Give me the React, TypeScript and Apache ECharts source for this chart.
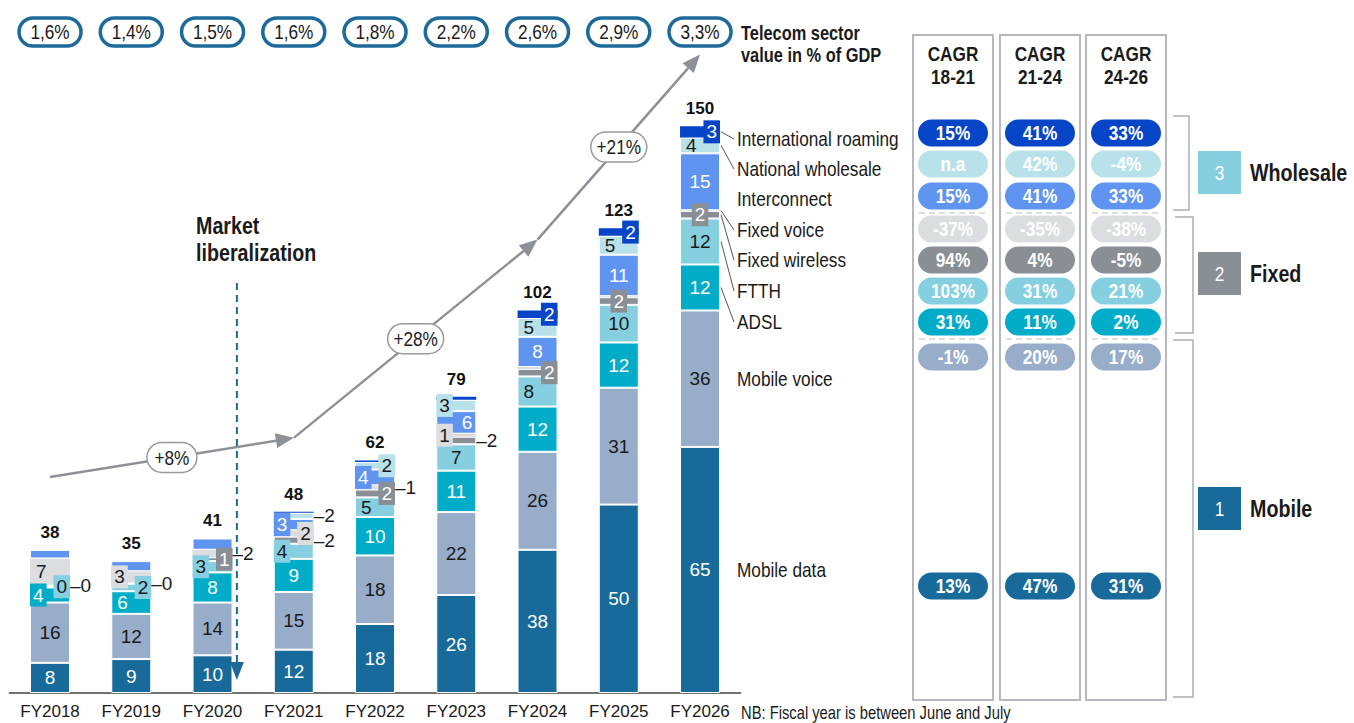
import React, { useEffect, useRef } from "react";
import * as echarts from "echarts";

const FONT = "'Liberation Sans', Arial, sans-serif";
const NARROW = 0.82;

// ---------------- DATA ----------------
const years = ["FY2018", "FY2019", "FY2020", "FY2021", "FY2022", "FY2023", "FY2024", "FY2025", "FY2026"];
const totals = [38, 35, 41, 48, 62, 79, 102, 123, 150];
const gdpShare = ["1,6%", "1,4%", "1,5%", "1,6%", "1,8%", "2,2%", "2,6%", "2,9%", "3,3%"];
const growthLabels = ["+8%", "+28%", "+21%"];

const seriesNames = [
  "Mobile data",
  "Mobile voice",
  "ADSL",
  "FTTH",
  "Fixed wireless",
  "Fixed voice",
  "Interconnect",
  "National wholesale",
  "International roaming",
];
const mobileData = [8, 9, 10, 11.5, 18.3, 26, 38, 50, 65.3];
const mobileVoice = [16, 12, 14, 15.3, 18.2, 22, 26, 31, 36.2];
const adsl = [4, 6, 8, 8.8, 10.2, 11, 12, 12, 12.2];
const ftth = [0.4, 2, 3, 4.0, 5.2, 7, 8, 10, 12.2];
const fixedWireless = [0.3, 0.3, 1, 1.9, 2.1, 2, 2, 2, 2];
const fixedVoice = [7, 3, 2, 1.7, 1.1, 0.8, 0.5, 0.3, 0.2];
const interconnect = [2.3, 2.7, 3, 3, 4.2, 6, 8, 11, 15.1];
const nationalWholesale = [0, 0, 0, 1.6, 2.0, 3, 5, 5, 4.2];
const internationalRoaming = [0, 0, 0, 0.3, 0.4, 0.8, 2, 2, 3];
const seriesValues = [
  mobileData,
  mobileVoice,
  adsl,
  ftth,
  fixedWireless,
  fixedVoice,
  interconnect,
  nationalWholesale,
  internationalRoaming,
];

const gdpTitle = "Telecom sector\nvalue in % of GDP";
const eventLabel = "Market\nliberalization";
const cagrHeaders = ["CAGR\n18-21", "CAGR\n21-24", "CAGR\n24-26"];
// series order: Mobile data .. International roaming
const cagr1821 = ["13%", "-1%", "31%", "103%", "94%", "-37%", "15%", "n.a", "15%"];
const cagr2124 = ["47%", "20%", "11%", "31%", "4%", "-35%", "41%", "42%", "41%"];
const cagr2426 = ["31%", "17%", "2%", "21%", "-5%", "-38%", "33%", "-4%", "33%"];
const cagrColumns = [cagr1821, cagr2124, cagr2426];
const groupNumbers = ["3", "2", "1"];
const groupNames = ["Wholesale", "Fixed", "Mobile"];
const footnote = "NB: Fiscal year is between June and July";

// ---------------- STYLES ----------------
const COLORS = ["#176a99", "#97adc9", "#00acc8", "#86cfe0", "#8a8f96", "#dcdde0", "#5f95f0", "#b9e1ea", "#0645c8"];
const TEXT_COLORS = ["#fff", "#1a1a1a", "#fff", "#1a1a1a", "#fff", "#1a1a1a", "#fff", "#1a1a1a", "#fff"];
const BORDERS = [1, 1, 1, 1, 1, 0, 1, 1, 0];
const PLACE = [
  ["in", "in", "in", "in", "in", "in", "in", "in", "in"],
  ["in", "in", "in", "in", "in", "in", "in", "in", "in"],
  ["L", "inL", "in", "in", "in", "in", "in", "in", "in"],
  ["R", "R", "L", "L", "inL", "in", "inL", "in", "in"],
  ["call", "call", "R", "call", "R", "call", "R", "C", "C"],
  ["inL", "L", "call", "R", "call", "L", "", "", ""],
  ["", "", "", "L", "L", "inR", "in", "in", "in"],
  ["", "", "", "call", "R", "L", "inL", "inL", "inL"],
  ["", "", "", "", "", "", "R", "R", "R"],
];
const LEGEND_Y: (number | null)[] = [null, null, 322, 291, 260, 230, 199, 169, 139];
const CAGR_Y = [586, 357, 322, 291, 260, 229, 196, 164, 133];
const CONNECT = [false, false, true, true, true, true, false, true, true];
const ARROW_POINTS = [
  [0, 57.3],
  [3, 67.7],
  [6, 120.3],
  [8, 169.4],
];
const GROUP_COLORS = ["#86cfe0", "#8a8f96", "#176a99"];
const GROUP_TOP = [151, 252, 487];
const BRACKETS = [
  [[1173, 116], [1189, 116], [1189, 210], [1173, 210]],
  [[1175, 217], [1193, 217], [1193, 333], [1175, 333]],
  [[1173, 340], [1193, 340], [1193, 697], [1173, 697]],
];
const COL_X = [913, 1000, 1086];
const BAR_W = 40;

function labelFor(code: string, si: number, v: number) {
  const txt = String(Math.round(v));
  const base: any = {
    show: true,
    fontFamily: FONT,
    fontSize: 19,
    color: TEXT_COLORS[si],
    formatter: txt,
  };
  const box = { backgroundColor: COLORS[si], padding: [2, 3, 1, 3], lineHeight: 20 };
  switch (code) {
    case "in":
      return { ...base, position: "inside" };
    case "inL":
      return { ...base, position: "insideLeft", distance: 6 };
    case "inR":
      return { ...base, position: "insideRight", distance: 4 };
    case "L":
      return { ...base, ...box, position: "insideLeft", distance: 0 };
    case "R":
      return { ...base, ...box, position: "insideRight", distance: 0 };
    case "C":
      return { ...base, ...box, position: "inside" };
    case "call":
      return { ...base, position: "right", distance: 0, color: "#1a1a1a", formatter: "–" + txt };
    default:
      return { show: false };
  }
}

export default function App() {
  const ref = useRef<HTMLDivElement>(null);

  useEffect(() => {
    document.body.style.margin = "0";
    if (!ref.current) return;
    const chart = echarts.init(ref.current, undefined, { renderer: "svg" });

    const series: any[] = seriesValues.map((vals, si) => ({
      name: seriesNames[si],
      type: "bar",
      stack: "total",
      stackStrategy: "all",
      barWidth: BAR_W,
      silent: true,
      emphasis: { disabled: true },
      itemStyle: { color: COLORS[si], borderColor: "#fff", borderWidth: BORDERS[si] },
      data: vals.map((v, i) => ({ value: v, label: labelFor(PLACE[si][i], si, v) })),
    }));
    series.push({
      name: "Total",
      type: "bar",
      stack: "total",
      stackStrategy: "all",
      barWidth: BAR_W,
      silent: true,
      itemStyle: { color: "rgba(0,0,0,0)" },
      label: {
        show: true,
        position: "top",
        distance: 9,
        fontFamily: FONT,
        fontSize: 17,
        fontWeight: "bold",
        color: "#111",
        formatter: (p: any) => String(totals[p.dataIndex]),
      },
      data: totals.map(() => 0),
    });

    chart.setOption({
      animation: false,
      grid: { left: 9.4, top: 90, width: 731.25, height: 603 },
      xAxis: {
        type: "category",
        data: years,
        axisTick: { show: false },
        axisLine: { lineStyle: { color: "#444", width: 1.5 } },
        axisLabel: { fontFamily: FONT, fontSize: 17, color: "#1a1a1a", margin: 10, interval: 0 },
      },
      yAxis: { type: "value", min: 0, max: 160, show: false },
      series,
    });

    const px = (c: number, v: number) =>
      chart.convertToPixel({ gridIndex: 0 }, [years[c], v]) as number[];

    const g: any[] = [];
    const txt = (text: string, x: number, y: number, opts: any = {}) => ({
      type: "text",
      x,
      y,
      scaleX: NARROW,
      z: 20,
      style: {
        text,
        fill: opts.fill || "#1a1a1a",
        fontFamily: FONT,
        fontSize: opts.size || 21,
        fontWeight: opts.bold ? "bold" : "normal",
        align: opts.align || "left",
        textAlign: opts.align || "left",
        verticalAlign: opts.va || "middle",
        textVerticalAlign: opts.va || "middle",
        lineHeight: opts.lh,
      },
    });

    // top GDP pills
    gdpShare.forEach((s, i) => {
      const [x] = px(i, 0);
      g.push({
        type: "rect",
        z: 15,
        shape: { x: x - 31, y: 18, width: 62, height: 28, r: 14 },
        style: { fill: "#fff", stroke: "#1d6a9a", lineWidth: 3.5 },
      });
      g.push(txt(s, x, 32, { align: "center" }));
    });
    g.push(txt(gdpTitle, 741, 22, { bold: true, size: 20, va: "top", lh: 22 }));

    // market liberalization
    const [x2] = px(2, 0);
    const [x3] = px(3, 0);
    const mx = x2 + 0.3 * (x3 - x2);
    g.push(txt(eventLabel, 196, 212, { bold: true, size: 24, va: "top", lh: 27 }));
    g.push({
      type: "line",
      z: 15,
      shape: { x1: mx, y1: 283, x2: mx, y2: 664 },
      style: { stroke: "#1d6a9a", lineWidth: 2, lineDash: [7, 5] },
    });
    g.push({
      type: "polygon",
      z: 15,
      shape: { points: [[mx - 7, 662], [mx + 7, 662], [mx, 680]] },
      style: { fill: "#1d6a9a" },
    });

    // growth arrows
    const pts = ARROW_POINTS.map(([c, v]) => px(c, v));
    for (let k = 0; k < pts.length - 1; k++) {
      const [ax, ay] = pts[k];
      const [bx, by] = pts[k + 1];
      const dx = bx - ax, dy = by - ay;
      const len = Math.hypot(dx, dy);
      const ux = dx / len, uy = dy / len;
      const L = 18, W = 7.5;
      const cx = bx - ux * L, cy = by - uy * L;
      g.push({
        type: "line",
        z: 16,
        shape: { x1: ax, y1: ay, x2: cx, y2: cy },
        style: { stroke: "#8d9197", lineWidth: 2.5 },
      });
      g.push({
        type: "polygon",
        z: 16,
        shape: { points: [[bx, by], [cx - uy * W, cy + ux * W], [cx + uy * W, cy - ux * W]] },
        style: { fill: "#8d9197" },
      });
      const midx = (ax + bx) / 2, midy = (ay + by) / 2;
      const w = growthLabels[k].length > 3 ? 56 : 50;
      g.push({
        type: "rect",
        z: 17,
        shape: { x: midx - w / 2, y: midy - 15, width: w, height: 30, r: 15 },
        style: { fill: "#fff", stroke: "#9a9a9a", lineWidth: 1.5 },
      });
      g.push(txt(growthLabels[k], midx, midy, { align: "center", size: 21 }));
    }

    // series name labels next to FY2026 bar with connectors
    const barRight = px(8, 0)[0] + BAR_W / 2;
    let cum = 0;
    seriesValues.forEach((vals, si) => {
      const v = vals[8];
      const mid = px(8, cum + v / 2)[1];
      cum += v;
      const ly = LEGEND_Y[si] ?? mid;
      g.push(txt(seriesNames[si], 737, ly, {}));
      if (CONNECT[si]) {
        g.push({
          type: "line",
          z: 14,
          shape: { x1: barRight + 1, y1: mid, x2: 734, y2: ly },
          style: { stroke: "#555", lineWidth: 1 },
        });
      }
    });
    g.push(txt(footnote, 741, 712, { size: 18 }));

    // CAGR table
    COL_X.forEach((cx, ci) => {
      g.push({
        type: "rect",
        z: 10,
        shape: { x: cx, y: 35, width: 80, height: 665 },
        style: { fill: "none", stroke: "#b5b9bf", lineWidth: 2 },
      });
      g.push(txt(cagrHeaders[ci], cx + 40, 42, { align: "center", bold: true, va: "top", lh: 23 }));
      [213, 339].forEach((yy) =>
        g.push({
          type: "line",
          z: 11,
          shape: { x1: cx + 6, y1: yy, x2: cx + 74, y2: yy },
          style: { stroke: "#d3d3d3", lineWidth: 1.5, lineDash: [6, 4] },
        })
      );
      cagrColumns[ci].forEach((val, si) => {
        const cy = CAGR_Y[si];
        g.push({
          type: "rect",
          z: 12,
          shape: { x: cx + 5, y: cy - 13.5, width: 70, height: 27, r: 13.5 },
          style: { fill: COLORS[si] },
        });
        g.push(txt(val, cx + 40, cy, { align: "center", bold: true, fill: "#fff" }));
      });
    });

    // brackets and group boxes
    BRACKETS.forEach((b) =>
      g.push({
        type: "polyline",
        z: 10,
        shape: { points: b },
        style: { stroke: "#a9adb3", lineWidth: 1.5, fill: "none" },
      })
    );
    groupNumbers.forEach((n, k) => {
      const top = GROUP_TOP[k];
      g.push({
        type: "rect",
        z: 12,
        shape: { x: 1198, y: top, width: 43, height: 43 },
        style: { fill: GROUP_COLORS[k] },
      });
      g.push(txt(n, 1219.5, top + 21.5, { align: "center", fill: "#fff" }));
      g.push(txt(groupNames[k], 1250, top + 22, { bold: true, size: 24 }));
    });

    chart.setOption({ graphic: { elements: g } });

    return () => chart.dispose();
  }, []);

  return <div ref={ref} style={{ width: 1354, height: 723 }} />;
}
